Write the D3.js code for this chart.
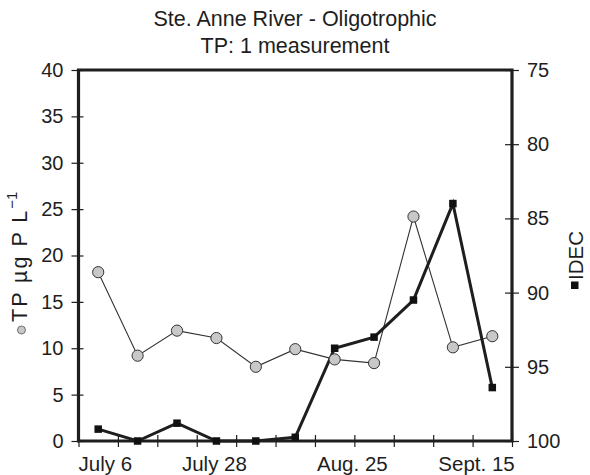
<!DOCTYPE html>
<html>
<head>
<meta charset="utf-8">
<script src="https://cdn.jsdelivr.net/npm/d3@7"></script>
<style>
  html, body { margin: 0; padding: 0; background: #fff; }
  svg { display: block; font-family: "Liberation Sans", Arial, Helvetica, sans-serif; }
</style>
</head>
<body>
<svg id="chart" width="590" height="475"></svg>
<script>
// Sampling occasions (one per week), Ste. Anne River
const samples = [0, 1, 2, 3, 4, 5, 6, 7, 8, 9, 10];
// Total phosphorus, µg P / L
const tpValues = [18.2, 9.2, 11.9, 11.1, 8.0, 9.9, 8.8, 8.4, 24.2, 10.1, 11.3];
// IDEC diatom index
const idecValues = [99.2, 100, 98.8, 100, 100, 99.75, 93.75, 93.0, 90.5, 84.0, 96.4];
// Date labels along the time axis and where they fall (in sample units)
const dateLabels = ["July 6", "July 28", "Aug. 25", "Sept. 15"];
const datePositions = [0.18, 2.95, 6.45, 9.6];
const tpTicks = [0, 5, 10, 15, 20, 25, 30, 35, 40];
const idecTicks = [75, 80, 85, 90, 95, 100];

const svg = d3.select("#chart");
const m = { left: 78.5, right: 512, top: 70, bottom: 441 };
const ink = "#1e1e1e";

const x = d3.scaleLinear().domain([-0.5, 10.5]).range([m.left, m.right]);
const yTP = d3.scaleLinear().domain([0, 40]).range([m.bottom, m.top]);
const yIDEC = d3.scaleLinear().domain([75, 100]).range([m.top, m.bottom]);

// Title
svg.append("text").attr("x", 295).attr("y", 26).attr("text-anchor", "middle")
  .attr("font-size", 21.5).attr("fill", ink).text("Ste. Anne River - Oligotrophic");
svg.append("text").attr("x", 295).attr("y", 53).attr("text-anchor", "middle")
  .attr("font-size", 21.5).attr("fill", ink).text("TP: 1 measurement");

// Axes
const tickStyle = g => {
  g.select(".domain").remove();
  g.selectAll(".tick line").attr("stroke", ink).attr("stroke-width", 1.2);
  g.selectAll(".tick text").attr("fill", ink).attr("font-size", 20)
    .attr("font-family", "Liberation Sans, Arial, sans-serif");
};

// Left TP axis: ticks straddle the axis line
const gL = svg.append("g").attr("transform", `translate(${m.left},0)`)
  .call(d3.axisLeft(yTP).tickValues(tpTicks).tickSize(7).tickPadding(8))
  .call(tickStyle);
gL.selectAll(".tick line").attr("x2", 5).attr("x1", -7);

// Right IDEC axis
const gR = svg.append("g").attr("transform", `translate(${m.right},0)`)
  .call(d3.axisRight(yIDEC).tickValues(idecTicks).tickSize(7).tickPadding(8))
  .call(tickStyle);
gR.selectAll(".tick line").attr("x1", -7).attr("x2", 7);

// Bottom axis: ticks at sample-interval boundaries, date labels separately
const bounds = d3.range(-0.5, 11, 1);
const gB = svg.append("g").attr("transform", `translate(0,${m.bottom})`)
  .call(d3.axisBottom(x).tickValues(bounds).tickSize(6).tickFormat(""))
  .call(tickStyle);
gB.selectAll(".tick line").attr("y1", -6).attr("y2", 6);

svg.append("g").selectAll("text").data(dateLabels).join("text")
  .attr("x", (d, i) => x(datePositions[i]))
  .attr("y", 471)
  .attr("text-anchor", "middle")
  .attr("font-size", 20.5).attr("fill", ink)
  .text(d => d);

// Frame: heavy left, right, bottom and top edges
svg.append("path")
  .attr("d", `M${m.left},${m.bottom}V${m.top}H${m.right}V${m.bottom}Z`)
  .attr("fill", "none").attr("stroke", ink).attr("stroke-width", 3.2);

// TP series: thin line with grey circles
const lineTP = d3.line().x((d, i) => x(samples[i])).y(d => yTP(d));
svg.append("path").datum(tpValues).attr("d", lineTP)
  .attr("fill", "none").attr("stroke", "#333").attr("stroke-width", 1.1);

// IDEC series: heavy line with black squares
const lineIDEC = d3.line().x((d, i) => x(samples[i])).y(d => yIDEC(d));
svg.append("path").datum(idecValues).attr("d", lineIDEC)
  .attr("fill", "none").attr("stroke", ink).attr("stroke-width", 3)
  .attr("stroke-linejoin", "miter");

svg.append("g").selectAll("circle").data(tpValues).join("circle")
  .attr("cx", (d, i) => x(samples[i])).attr("cy", d => yTP(d))
  .attr("r", 5.6).attr("fill", "#c8c8c8").attr("stroke", "#333").attr("stroke-width", 1);

const sq = 7.5;
svg.append("g").selectAll("rect").data(idecValues).join("rect")
  .attr("x", (d, i) => x(samples[i]) - sq / 2).attr("y", d => yIDEC(d) - sq / 2)
  .attr("width", sq).attr("height", sq).attr("fill", "#111");

// Left axis title with circle marker
const lt = svg.append("g").attr("transform", "translate(27,256) rotate(-90)");
lt.append("circle").attr("cx", -74).attr("cy", -5.5).attr("r", 4)
  .attr("fill", "#c8c8c8").attr("stroke", "#555").attr("stroke-width", 0.8);
const ltText = lt.append("text").attr("x", -66).attr("y", 0)
  .attr("font-size", 21.5).attr("fill", ink).attr("letter-spacing", 2);
ltText.append("tspan").text("TP µg P L");
ltText.append("tspan").attr("dy", -10).attr("font-size", 15).attr("letter-spacing", 0).text("−1");

// Right axis title with square marker
const rt = svg.append("g").attr("transform", "translate(583,260) rotate(-90)");
rt.append("rect").attr("x", -29).attr("y", -12).attr("width", 7.5).attr("height", 7.5).attr("fill", "#111");
rt.append("text").attr("x", -20).attr("y", 0).attr("font-size", 20.5).attr("fill", ink).text("IDEC");
</script>
</body>
</html>
